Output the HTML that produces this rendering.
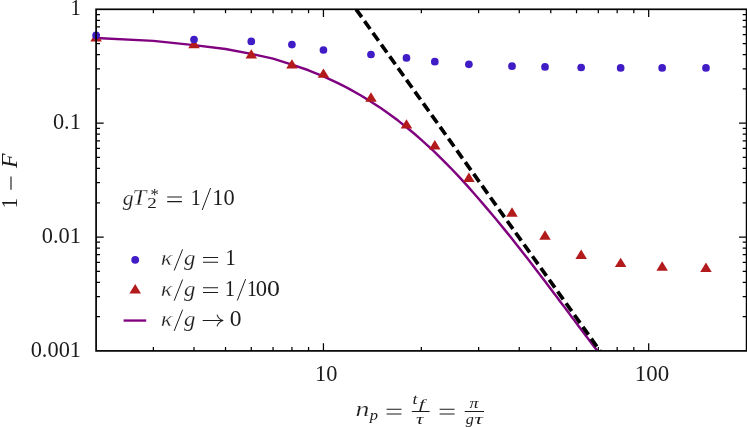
<!DOCTYPE html>
<html><head><meta charset="utf-8"><title>plot</title>
<style>html,body{margin:0;padding:0;background:#fff;}svg{display:block;}text{font-family:"Liberation Serif",serif;fill:#1c1c1c;font-kerning:none;}.i{font-style:italic;}</style></head><body>
<svg width="747" height="427" viewBox="0 0 747 427">
<rect x="0" y="0" width="747" height="427" fill="#fff"/>
<g style="opacity:0.999">
<path d="M153.37 350.90v-3.9M153.37 9.30v3.9M194.01 350.90v-3.9M194.01 9.30v3.9M225.53 350.90v-3.9M225.53 9.30v3.9M251.28 350.90v-3.9M251.28 9.30v3.9M273.06 350.90v-3.9M273.06 9.30v3.9M291.92 350.90v-3.9M291.92 9.30v3.9M308.56 350.90v-3.9M308.56 9.30v3.9M323.44 350.90v-7.6M323.44 9.30v7.6M421.35 350.90v-3.9M421.35 9.30v3.9M478.62 350.90v-3.9M478.62 9.30v3.9M519.26 350.90v-3.9M519.26 9.30v3.9M550.78 350.90v-3.9M550.78 9.30v3.9M576.53 350.90v-3.9M576.53 9.30v3.9M598.31 350.90v-3.9M598.31 9.30v3.9M617.17 350.90v-3.9M617.17 9.30v3.9M633.81 350.90v-3.9M633.81 9.30v3.9M648.69 350.90v-7.6M648.69 9.30v7.6M96.10 123.17h7.6M746.60 123.17h-7.6M96.10 88.89h3.9M746.60 88.89h-3.9M96.10 68.84h3.9M746.60 68.84h-3.9M96.10 54.61h3.9M746.60 54.61h-3.9M96.10 43.58h3.9M746.60 43.58h-3.9M96.10 34.56h3.9M746.60 34.56h-3.9M96.10 26.94h3.9M746.60 26.94h-3.9M96.10 20.33h3.9M746.60 20.33h-3.9M96.10 14.51h3.9M746.60 14.51h-3.9M96.10 237.03h7.6M746.60 237.03h-7.6M96.10 202.76h3.9M746.60 202.76h-3.9M96.10 182.71h3.9M746.60 182.71h-3.9M96.10 168.48h3.9M746.60 168.48h-3.9M96.10 157.44h3.9M746.60 157.44h-3.9M96.10 148.43h3.9M746.60 148.43h-3.9M96.10 140.80h3.9M746.60 140.80h-3.9M96.10 134.20h3.9M746.60 134.20h-3.9M96.10 128.38h3.9M746.60 128.38h-3.9M96.10 316.62h3.9M746.60 316.62h-3.9M96.10 296.57h3.9M746.60 296.57h-3.9M96.10 282.35h3.9M746.60 282.35h-3.9M96.10 271.31h3.9M746.60 271.31h-3.9M96.10 262.29h3.9M746.60 262.29h-3.9M96.10 254.67h3.9M746.60 254.67h-3.9M96.10 248.07h3.9M746.60 248.07h-3.9M96.10 242.24h3.9M746.60 242.24h-3.9" stroke="#000" stroke-width="1.25" fill="none"/>
<clipPath id="c"><rect x="96.1" y="9.3" width="650.5" height="341.59999999999997"/></clipPath>
<path d="M96.10 37.96 L153.37 40.90 L194.01 45.10 L225.53 49.00 L251.28 53.85 L273.06 58.60 L291.92 64.55 L308.56 70.26 L323.44 76.34 L336.90 82.56 L349.19 88.88 L360.50 95.25 L370.97 101.65 L380.71 108.06 L389.83 114.47 L398.39 120.85 L406.47 127.21 L414.10 133.53 L421.35 139.81 L428.24 146.04 L434.81 152.21 L441.09 158.32 L447.10 164.34 L452.87 170.27 L458.41 176.11 L463.74 181.86 L468.88 187.58 L473.83 193.26 L478.62 198.82 L483.26 204.16 L487.74 209.37 L492.09 214.50 L496.30 219.54 L500.40 224.49 L504.38 229.36 L508.25 234.14 L512.01 238.83 L515.68 243.44 L519.26 247.97 L522.75 252.41 L526.15 256.78 L529.48 261.06 L532.72 265.27 L535.90 269.41 L539.00 273.46 L542.04 277.45 L545.01 281.36 L547.93 285.21 L550.78 288.98 L553.58 292.69 L556.32 296.34 L559.01 299.91 L561.65 303.43 L564.24 306.89 L566.79 310.29 L569.29 313.62 L571.74 316.90 L574.16 320.13 L576.53 323.30 L578.87 326.42 L581.17 329.49 L583.43 332.50 L585.65 335.47 L587.84 338.38 L590.00 341.25 L592.12 344.07 L594.21 346.85 L596.28 349.58 L598.31 352.27 L600.31 354.92" stroke="#800080" stroke-width="2.45" fill="none" stroke-linejoin="round" clip-path="url(#c)"/>
<path d="M356.10 9.30L600.04 350.90" stroke="#000" stroke-width="3.7" stroke-dasharray="9.7 4.75" fill="none" clip-path="url(#c)"/>
<path d="M90.35 41.50h11.5L96.10 32.10z" fill="#b31a1c"/>
<path d="M188.26 48.30h11.5L194.01 38.90z" fill="#b31a1c"/>
<path d="M245.53 58.60h11.5L251.28 49.20z" fill="#b31a1c"/>
<path d="M286.17 68.60h11.5L291.92 59.20z" fill="#b31a1c"/>
<path d="M317.69 77.80h11.5L323.44 68.40z" fill="#b31a1c"/>
<path d="M365.22 101.70h11.5L370.97 92.30z" fill="#b31a1c"/>
<path d="M400.72 128.60h11.5L406.47 119.20z" fill="#b31a1c"/>
<path d="M429.06 149.50h11.5L434.81 140.10z" fill="#b31a1c"/>
<path d="M463.13 181.90h11.5L468.88 172.50z" fill="#b31a1c"/>
<path d="M506.26 216.70h11.5L512.01 207.30z" fill="#b31a1c"/>
<path d="M539.26 239.70h11.5L545.01 230.30z" fill="#b31a1c"/>
<path d="M575.42 259.00h11.5L581.17 249.60z" fill="#b31a1c"/>
<path d="M614.91 267.10h11.5L620.66 257.70z" fill="#b31a1c"/>
<path d="M656.40 270.70h11.5L662.15 261.30z" fill="#b31a1c"/>
<path d="M700.21 272.00h11.5L705.96 262.60z" fill="#b31a1c"/>
<circle cx="96.10" cy="35.40" r="3.85" fill="#401cc6"/>
<circle cx="194.01" cy="39.50" r="3.85" fill="#401cc6"/>
<circle cx="251.28" cy="41.40" r="3.85" fill="#401cc6"/>
<circle cx="291.92" cy="44.60" r="3.85" fill="#401cc6"/>
<circle cx="323.44" cy="50.00" r="3.85" fill="#401cc6"/>
<circle cx="370.97" cy="54.50" r="3.85" fill="#401cc6"/>
<circle cx="406.47" cy="57.90" r="3.85" fill="#401cc6"/>
<circle cx="434.81" cy="61.70" r="3.85" fill="#401cc6"/>
<circle cx="468.88" cy="64.30" r="3.85" fill="#401cc6"/>
<circle cx="512.01" cy="66.20" r="3.85" fill="#401cc6"/>
<circle cx="545.01" cy="66.90" r="3.85" fill="#401cc6"/>
<circle cx="581.17" cy="67.50" r="3.85" fill="#401cc6"/>
<circle cx="620.66" cy="67.90" r="3.85" fill="#401cc6"/>
<circle cx="662.15" cy="67.90" r="3.85" fill="#401cc6"/>
<circle cx="705.96" cy="67.90" r="3.85" fill="#401cc6"/>
<rect x="96.1" y="9.3" width="650.5" height="341.59999999999997" fill="none" stroke="#000" stroke-width="1.7"/>
<text transform="translate(70.49,15.00) scale(0.941,1.054)" font-size="22">1</text>
<text transform="translate(52.96,129.07) scale(1.014,1.046)" font-size="22">0.1</text>
<text transform="translate(41.76,242.93) scale(1.020,1.046)" font-size="22">0.01</text>
<text transform="translate(30.66,356.60) scale(1.018,1.046)" font-size="22">0.001</text>
<text transform="translate(315.04,380.90) scale(1.018,1.046)" font-size="22">10</text>
<text transform="translate(634.80,380.90) scale(1.041,1.046)" font-size="22">100</text>
<g transform="translate(17.1,0) rotate(-90)">
<text transform="translate(-208.19,0.00) scale(0.928,1.054)" font-size="22">1</text>
<path d="M-189.8 -6.1H-176.4" stroke="#1c1c1c" stroke-width="1.15"/>
<text class="i" transform="translate(-168.08,0.00) scale(1.076,1.069)" font-size="22">F</text>
</g>
<text class="i" stroke="#fff" stroke-width="0.2" transform="translate(122.70,204.70) scale(0.986,1.000)" font-size="22">g</text>
<text class="i" stroke="#fff" stroke-width="0.3" transform="translate(132.16,204.70) scale(1.149,1.083)" font-size="22">T</text>
<text transform="translate(147.19,208.00) scale(1.234,1.000)" font-size="15.5">2</text>
<text transform="translate(150.47,200.00) scale(0.979,1.000)" font-size="17">*</text>
<path d="M167.20 196.95H181.90M167.20 201.65H181.90" stroke="#1c1c1c" stroke-width="1.1" fill="none"/>
<text transform="translate(190.84,204.70) scale(0.916,1.054)" font-size="22">1</text>
<path d="M202.20 210.00L210.60 188.00" stroke="#1c1c1c" stroke-width="1.0" fill="none"/>
<text transform="translate(212.24,204.70) scale(1.018,1.046)" font-size="22">10</text>
<circle cx="135.2" cy="259.9" r="3.9" fill="#401cc6"/>
<path d="M129.4 293.4h11.6L135.2 284z" fill="#b31a1c"/>
<path d="M123.6 320.55H146.2" stroke="#800080" stroke-width="2.35"/>
<text class="i" stroke="#fff" stroke-width="0.3" transform="translate(160.69,265.30) scale(1.105,1.000)" font-size="22">κ</text>
<path d="M174.20 270.50L182.60 249.30" stroke="#1c1c1c" stroke-width="1.0" fill="none"/>
<text class="i" stroke="#fff" stroke-width="0.2" transform="translate(184.00,265.30) scale(1.035,1.000)" font-size="22">g</text>
<text class="i" stroke="#fff" stroke-width="0.3" transform="translate(160.69,295.50) scale(1.105,1.000)" font-size="22">κ</text>
<path d="M174.20 300.70L182.60 279.50" stroke="#1c1c1c" stroke-width="1.0" fill="none"/>
<text class="i" stroke="#fff" stroke-width="0.2" transform="translate(184.00,295.50) scale(1.035,1.000)" font-size="22">g</text>
<text class="i" stroke="#fff" stroke-width="0.3" transform="translate(160.69,325.70) scale(1.105,1.000)" font-size="22">κ</text>
<path d="M174.20 330.90L182.60 309.70" stroke="#1c1c1c" stroke-width="1.0" fill="none"/>
<text class="i" stroke="#fff" stroke-width="0.2" transform="translate(184.00,325.70) scale(1.035,1.000)" font-size="22">g</text>
<path d="M203.00 257.55H218.10M203.00 262.25H218.10" stroke="#1c1c1c" stroke-width="1.1" fill="none"/>
<text transform="translate(225.14,265.30) scale(0.967,1.054)" font-size="22">1</text>
<path d="M203.00 287.75H218.10M203.00 292.45H218.10" stroke="#1c1c1c" stroke-width="1.1" fill="none"/>
<text transform="translate(224.79,295.50) scale(0.941,1.054)" font-size="22">1</text>
<path d="M237.30 300.50L245.60 279.10" stroke="#1c1c1c" stroke-width="1.0" fill="none"/>
<text transform="translate(246.96,295.50) scale(0.903,1.054)" font-size="22">1</text>
<text transform="translate(255.85,295.50) scale(1.027,1.046)" font-size="22">0</text>
<text transform="translate(267.03,295.50) scale(1.176,1.046)" font-size="22">0</text>
<path d="M203.1 320.5H222.4M217.2 315.1Q218.6 319.1 222.9 320.5Q218.6 321.9 217.2 325.9" stroke="#1c1c1c" stroke-width="1.05" fill="none" stroke-linecap="round" stroke-linejoin="round"/>
<text transform="translate(229.72,326.10) scale(1.070,1.046)" font-size="22">0</text>
<text class="i" stroke="#fff" stroke-width="0.25" transform="translate(355.62,416.30) scale(1.269,1.000)" font-size="22">n</text>
<text class="i" transform="translate(369.85,419.60) scale(1.064,1.000)" font-size="15.5">p</text>
<path d="M386.60 409.25H401.50M386.60 413.95H401.50" stroke="#1c1c1c" stroke-width="1.1" fill="none"/>
<path d="M411.8 411.45H429.6M464.7 411.45H484" stroke="#1c1c1c" stroke-width="1.05"/>
<text class="i" transform="translate(412.50,404.30) scale(1.150,1.000)" font-size="15.5">t</text>
<text class="i" transform="translate(419.09,407.90) scale(1.721,1.000)" font-size="12">f</text>
<text class="i" transform="translate(415.93,423.80) scale(1.343,1.000)" font-size="15.5">τ</text>
<path d="M439.60 409.25H454.60M439.60 413.95H454.60" stroke="#1c1c1c" stroke-width="1.1" fill="none"/>
<text class="i" transform="translate(469.51,407.90) scale(1.154,1.000)" font-size="15.5">π</text>
<text class="i" transform="translate(465.80,423.80) scale(1.043,1.000)" font-size="15.5">g</text>
<text class="i" transform="translate(474.48,423.80) scale(1.485,1.000)" font-size="15.5">τ</text>
</g>
</svg></body></html>
